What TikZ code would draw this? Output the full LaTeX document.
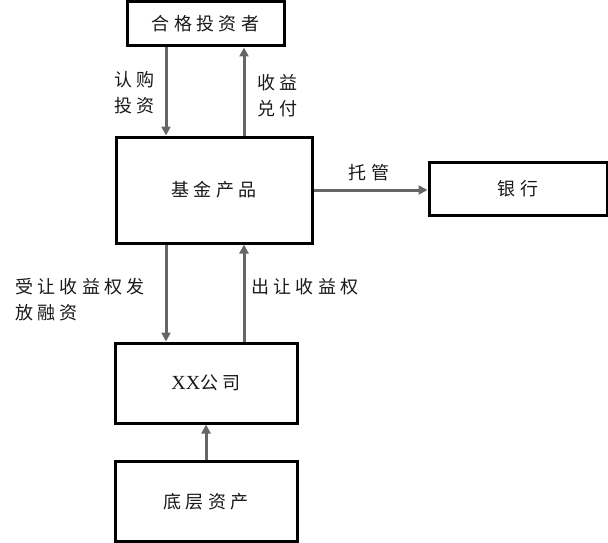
\documentclass[tikz,border=0pt]{standalone}
\usepackage{fontspec}
\newfontfamily\cjk[LetterSpace=24]{Noto Sans CJK SC}
\newfontfamily\lat{Liberation Serif}
\usetikzlibrary{arrows.meta}
\begin{document}
\begin{tikzpicture}[x=1pt,y=-1pt,
  box/.style={draw=black,line width=3pt,fill=white,inner sep=0pt,font=\cjk\fontsize{18}{20}\selectfont,text=black!90},
  arr/.style={draw=black!60,line width=3pt,-{Triangle[width=9pt,length=9pt]}},
  lbl/.style={font=\cjk\fontsize{18}{26}\selectfont,text=black!90,align=left,inner sep=0pt,anchor=west}]
\useasboundingbox (0,0) rectangle (608,543);
\node[box,minimum width=157pt,minimum height=44pt] (inv) at (205.5,24) {合格投资者};
\node[box,minimum width=196pt,minimum height=106pt] (fund) at (214,190) {基金产品};
\node[box,minimum width=178pt,minimum height=53pt] (bank) at (518,188.5) {银行};
\node[box,minimum width=182pt,minimum height=80pt] (comp) at (206,383) {{\lat\fontsize{20}{20}\selectfont XX}公司};
\node[box,minimum width=182pt,minimum height=80pt] (asset) at (206,501.5) {底层资产};
\coordinate (xa) at (166,0);
\coordinate (xb) at (244,0);
\coordinate (yc) at (0,190);
\draw[arr] (inv.south -| xa) -- (fund.north -| xa);
\draw[arr] (fund.north -| xb) -- (inv.south -| xb);
\draw[arr] (fund.east |- yc) -- (bank.west |- yc);
\draw[arr] (fund.south -| xa) -- (comp.north -| xa);
\draw[arr] (comp.north -| xb) -- (fund.south -| xb);
\draw[arr] (asset.north) -- (comp.south);
\node[lbl] (l1) at (114,93) {认购\\投资};
\node[lbl] (l2) at (257,96) {收益\\兑付};
\node[lbl,anchor=center] (l3) at (369,173) {托管};
\node[lbl] (l4) at (15,300) {受让收益权发\\放融资};
\node[lbl] (l5) at (251,287) {出让收益权};
\end{tikzpicture}
\end{document}
